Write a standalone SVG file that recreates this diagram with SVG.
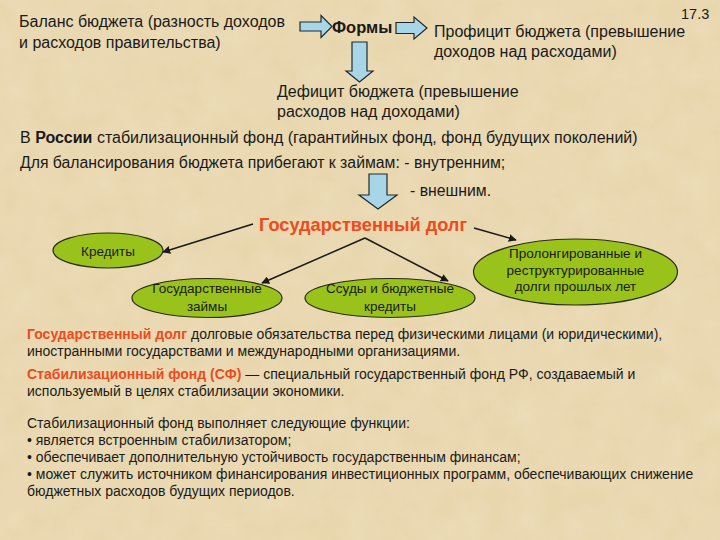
<svg xmlns="http://www.w3.org/2000/svg" width="720" height="540" viewBox="0 0 720 540">
  <defs>
    <filter id="paper" x="0" y="0" width="100%" height="100%">
      <feTurbulence type="fractalNoise" baseFrequency="0.035" numOctaves="4" seed="7" result="n"/>
      <feColorMatrix in="n" type="matrix" values="0 0 0 0 0.93  0 0 0 0 0.86  0 0 0 0 0.70  0 0 0 0.55 -0.12"/>
    </filter>
    <marker id="ah" viewBox="0 0 10 10" refX="9" refY="5" markerWidth="8" markerHeight="8" markerUnits="userSpaceOnUse" orient="auto">
      <path d="M0,0 L10,5 L0,10 z" fill="#1a1a1a"/>
    </marker>
    <style>
      text { font-family: "Liberation Sans", Arial, sans-serif; fill: #1a1a1a; }
      .t15 { font-size: 16px; }
      .t14 { font-size: 15.8px; }
      .t13 { font-size: 14px; }
      .node { font-size: 13.5px; text-anchor: middle; }
      .ell { fill: #99c21a; stroke: #2a2a1a; stroke-width: 1.2; }
      .blk { fill: #a8d6e6; stroke: #1f2a30; stroke-width: 1.2; }
      .red { fill: #ef4a1c; font-weight: bold; }
      .conn { stroke: #1a1a1a; stroke-width: 1.5; fill: none; marker-end: url(#ah); }
    </style>
  </defs>

  <rect width="720" height="540" fill="#e8d6ad"/>
  <rect width="720" height="540" filter="url(#paper)" opacity="0.6"/>

  <text x="681" y="19" style="font-size:14.5px">17.3</text>

  <g id="balance">
    <text x="19" y="27" class="t15">Баланс бюджета (разность доходов</text>
    <text x="19" y="48" class="t15">и расходов правительства)</text>
  </g>
  <g id="forms">
    <text x="332" y="33" style="font-size:16.5px;font-weight:bold">Формы</text>
  </g>
  <g id="surplus">
    <text x="434" y="37" class="t15">Профицит бюджета (превышение</text>
    <text x="434" y="57" class="t15">доходов над расходами)</text>
  </g>
  <g id="deficit">
    <text x="277" y="97" class="t15">Дефицит бюджета (превышение</text>
    <text x="277" y="117" class="t15">расходов над доходами)</text>
  </g>

  <g id="block-arrows">
    <path class="blk" d="M300,22 L321,22 L321,15.5 L332,26.5 L321,37.5 L321,31 L300,31 z"/>
    <path class="blk" d="M396,22.5 L414,22.5 L414,17 L427,28 L414,39 L414,33.5 L396,33.5 z"/>
    <path class="blk" d="M352,42 L367,42 L367,71 L373,71 L359.5,82 L346,71 L352,71 z"/>
    <path class="blk" d="M369,174 L387,174 L387,195 L397,195 L378,209 L359,195 L369,195 z"/>
  </g>

  <g id="russia">
    <text x="20" y="143" class="t15">В <tspan font-weight="bold">России</tspan> стабилизационный фонд (гарантийных фонд, фонд будущих поколений)</text>
  </g>
  <g id="borrowing">
    <text x="20" y="168" class="t14">Для балансирования бюджета прибегают к займам: - внутренним;</text>
    <text x="410" y="196" class="t14">- внешним.</text>
  </g>

  <g id="gosdolg">
    <text x="363" y="231" text-anchor="middle" class="red" style="font-size:18.2px">Государственный долг</text>
  </g>

  <g id="credits">
    <ellipse class="ell" cx="108" cy="250.5" rx="55" ry="17.5"/>
    <text x="108" y="256" class="node">Кредиты</text>
  </g>
  <g id="gov-loans">
    <ellipse class="ell" cx="207" cy="298" rx="75" ry="19.5"/>
    <text x="207" y="293" class="node">Государственные</text>
    <text x="207" y="311" class="node">займы</text>
  </g>
  <g id="budget-loans">
    <ellipse class="ell" cx="390" cy="298" rx="85" ry="19.5"/>
    <text x="390" y="293" class="node">Ссуды и бюджетные</text>
    <text x="390" y="311" class="node">кредиты</text>
  </g>
  <g id="prolonged">
    <ellipse class="ell" cx="575.5" cy="272" rx="102" ry="33"/>
    <text x="575.5" y="258" class="node">Пролонгированные и</text>
    <text x="575.5" y="275" class="node">реструктурированные</text>
    <text x="575.5" y="291" class="node">долги прошлых лет</text>
  </g>

  <g id="connectors">
    <line class="conn" x1="253" y1="224" x2="163" y2="252"/>
    <line class="conn" x1="365" y1="238" x2="262" y2="283"/>
    <line class="conn" x1="365" y1="238" x2="448" y2="281"/>
    <line class="conn" x1="474" y1="228" x2="516" y2="240"/>
  </g>

  <g id="definitions">
    <text x="27" y="339" class="t13"><tspan class="red">Государственный долг</tspan> долговые обязательства перед физическими лицами (и юридическими),</text>
    <text x="27" y="356" class="t13">иностранными государствами и международными организациями.</text>
    <text x="27" y="379" class="t13"><tspan class="red">Стабилизационный фонд (СФ)</tspan> — специальный государственный фонд РФ, создаваемый и</text>
    <text x="27" y="396" class="t13">используемый в целях стабилизации экономики.</text>
    <text x="27" y="428" class="t13">Стабилизационный фонд выполняет следующие функции:</text>
    <text x="27" y="445" class="t13">• является встроенным стабилизатором;</text>
    <text x="27" y="462" class="t13">• обеспечивает дополнительную устойчивость государственным финансам;</text>
    <text x="27" y="479" class="t13">• может служить источником финансирования инвестиционных программ, обеспечивающих снижение</text>
    <text x="27" y="496" class="t13">бюджетных расходов будущих периодов.</text>
  </g>
</svg>
